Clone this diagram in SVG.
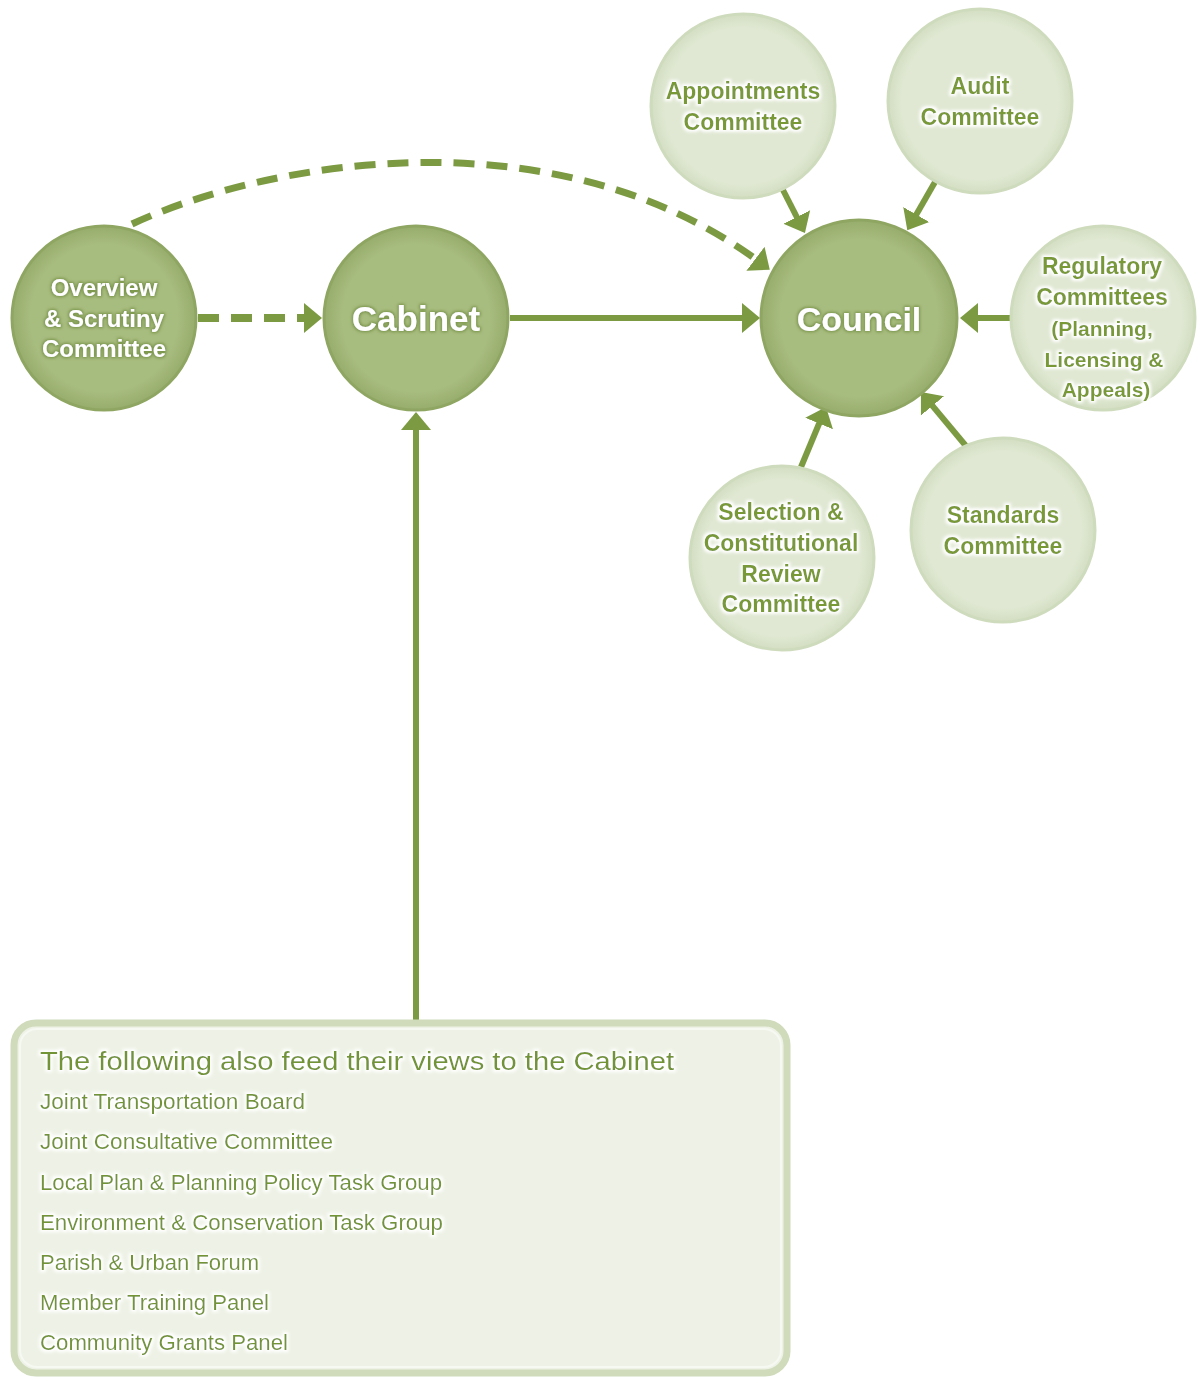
<svg xmlns="http://www.w3.org/2000/svg" width="1197" height="1377" viewBox="0 0 1197 1377">
<style>
.dk{fill:url(#gd);stroke:#8fa663;stroke-width:3}
.lt{fill:url(#gl);stroke:#cfdbbd;stroke-width:3}
.wt{font-family:"Liberation Sans",Arial,sans-serif;font-weight:bold;fill:#ffffff;text-anchor:middle;filter:url(#gdk)}
.gt{font-family:"Liberation Sans",Arial,sans-serif;font-weight:bold;fill:#789936;text-anchor:middle;filter:url(#gwh)}
.bt{font-family:"Liberation Sans",Arial,sans-serif;fill:#729434;filter:url(#gwh)}
.ln{fill:none;stroke:#7b9a41;stroke-width:6;marker-end:url(#ah)}
.ds{fill:none;stroke:#7b9a41;stroke-width:8;stroke-dasharray:21 12;marker-end:url(#ah)}
</style>
<defs>
<radialGradient id="gd" cx="50%" cy="50%" r="50%"><stop offset="0.8" stop-color="#a7bc7f"/><stop offset="1" stop-color="#97ad6c"/></radialGradient>
<radialGradient id="gl" cx="50%" cy="50%" r="50%"><stop offset="0.85" stop-color="#e0e8d3"/><stop offset="1" stop-color="#d3dec2"/></radialGradient>
<filter id="gwh" x="-10%" y="-40%" width="120%" height="180%"><feMorphology in="SourceAlpha" operator="dilate" radius="1.5" result="d"/><feGaussianBlur in="d" stdDeviation="1.5" result="b"/><feFlood flood-color="#ffffff"/><feComposite in2="b" operator="in" result="g"/><feMerge><feMergeNode in="g"/><feMergeNode in="SourceGraphic"/></feMerge></filter>
<filter id="gdk" x="-10%" y="-40%" width="120%" height="180%"><feMorphology in="SourceAlpha" operator="dilate" radius="1" result="d"/><feGaussianBlur in="d" stdDeviation="1.5" result="b"/><feFlood flood-color="#6d8a3a" flood-opacity="0.8"/><feComposite in2="b" operator="in" result="g"/><feMerge><feMergeNode in="g"/><feMergeNode in="SourceGraphic"/></feMerge></filter>
<marker id="ah" markerUnits="userSpaceOnUse" markerWidth="20" markerHeight="32" refX="12" refY="16" orient="auto"><path d="M0,1 L18,16 L0,31 z" fill="#7b9a41"/></marker>
</defs>
<rect width="1197" height="1377" fill="#ffffff"/>

<g id="connectors">
<path class="ds" d="M132,224 C270,160 560,110 765,266" style="stroke-width:7"/>
<line class="ds" x1="198" y1="318" x2="316" y2="318"/>
<line class="ln" x1="510" y1="318" x2="754" y2="318"/>
<line class="ln" x1="1012" y1="318" x2="966" y2="318"/>
<line class="ln" x1="416" y1="1020" x2="416" y2="418"/>
<line class="ln" x1="783" y1="190" x2="802.2" y2="227.7"/>
<line class="ln" x1="935" y1="182" x2="910.3" y2="225"/>
<line class="ln" x1="801" y1="467" x2="823.7" y2="412.5"/>
<line class="ln" x1="966" y1="446" x2="924.8" y2="396.6"/>
</g>

<g id="overview">
<circle class="dk" cx="104" cy="318" r="92"/>
<text class="wt" font-size="24" x="104" y="296">Overview</text>
<text class="wt" font-size="24" x="104" y="327">&amp; Scrutiny</text>
<text class="wt" font-size="24" x="104" y="357">Committee</text>
</g>
<g id="cabinet">
<circle class="dk" cx="416" cy="318" r="92"/>
<text class="wt" font-size="35" x="416" y="331">Cabinet</text>
</g>
<g id="council">
<circle class="dk" cx="859" cy="318" r="98"/>
<text class="wt" font-size="34" x="859" y="331">Council</text>
</g>
<g id="appointments">
<circle class="lt" cx="743" cy="106" r="92"/>
<text class="gt" font-size="23" x="743" y="99">Appointments</text>
<text class="gt" font-size="23" x="743" y="130">Committee</text>
</g>
<g id="audit">
<circle class="lt" cx="980" cy="101" r="92"/>
<text class="gt" font-size="23" x="980" y="94">Audit</text>
<text class="gt" font-size="23" x="980" y="125">Committee</text>
</g>
<g id="regulatory">
<circle class="lt" cx="1103" cy="318" r="92"/>
<text class="gt" font-size="23" x="1102" y="274">Regulatory</text>
<text class="gt" font-size="23" x="1102" y="305">Committees</text>
<text class="gt" font-size="21" x="1102" y="336">(Planning,</text>
<text class="gt" font-size="21" x="1104" y="367">Licensing &amp;</text>
<text class="gt" font-size="21" x="1106" y="397">Appeals)</text>
</g>
<g id="selection">
<circle class="lt" cx="782" cy="558" r="92"/>
<text class="gt" font-size="23" x="781" y="520">Selection &amp;</text>
<text class="gt" font-size="23" x="781" y="551">Constitutional</text>
<text class="gt" font-size="23" x="781" y="582">Review</text>
<text class="gt" font-size="23" x="781" y="612">Committee</text>
</g>
<g id="standards">
<circle class="lt" cx="1003" cy="530" r="92"/>
<text class="gt" font-size="23" x="1003" y="523">Standards</text>
<text class="gt" font-size="23" x="1003" y="554">Committee</text>
</g>

<g id="feeders">
<rect x="14" y="1023" width="773" height="350" rx="22" fill="#eef2e6" stroke="#cfdbbb" stroke-width="7"/>
<rect x="20" y="1029" width="761" height="338" rx="17" fill="none" stroke="#f6f8f2" stroke-width="2"/>
<text class="bt" font-size="26" x="40" y="1070" textLength="634" lengthAdjust="spacingAndGlyphs">The following also feed their views to the Cabinet</text>
<text class="bt" font-size="22" x="40" y="1109" textLength="265" lengthAdjust="spacingAndGlyphs">Joint Transportation Board</text>
<text class="bt" font-size="22" x="40" y="1149" textLength="293" lengthAdjust="spacingAndGlyphs">Joint Consultative Committee</text>
<text class="bt" font-size="22" x="40" y="1190" textLength="402" lengthAdjust="spacingAndGlyphs">Local Plan &amp; Planning Policy Task Group</text>
<text class="bt" font-size="22" x="40" y="1230" textLength="403" lengthAdjust="spacingAndGlyphs">Environment &amp; Conservation Task Group</text>
<text class="bt" font-size="22" x="40" y="1270" textLength="219" lengthAdjust="spacingAndGlyphs">Parish &amp; Urban Forum</text>
<text class="bt" font-size="22" x="40" y="1310" textLength="229" lengthAdjust="spacingAndGlyphs">Member Training Panel</text>
<text class="bt" font-size="22" x="40" y="1350" textLength="248" lengthAdjust="spacingAndGlyphs">Community Grants Panel</text>
</g>
</svg>
